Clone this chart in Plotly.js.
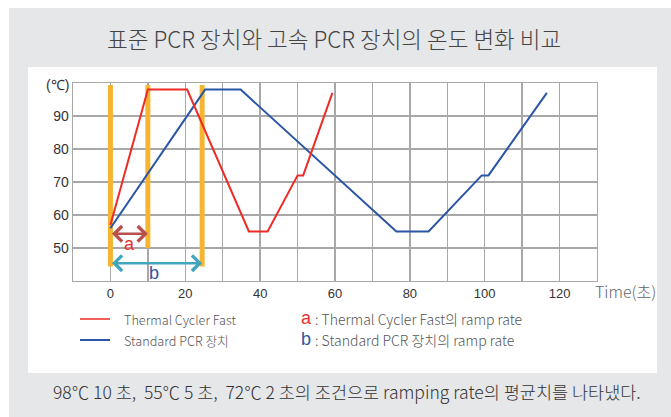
<!DOCTYPE html>
<html>
<head>
<meta charset="utf-8">
<script src="https://cdn.plot.ly/plotly-3.0.1.min.js"></script>
<style>
  html, body { margin: 0; padding: 0; background: #ffffff; }
  #wrap { position: relative; width: 671px; height: 417px; overflow: hidden; }
  #gray { position: absolute; left: 9px; top: 8px; width: 662px; height: 409px; background: #e6e7e9; }
  #white { position: absolute; left: 28px; top: 67px; width: 629px; height: 306px; background: #ffffff; }
  #chart { position: absolute; left: 0; top: 0; width: 671px; height: 417px; }
</style>
</head>
<body>
<div id="wrap">
  <div id="gray"></div>
  <div id="white"></div>
  <div id="chart"></div>
</div>
<script>
// ---- data ----
const fastTime = [0, 10, 20.5, 37, 42, 50, 51.5, 59.3];
const fastTemp = [57, 98, 98, 55, 55, 72, 72, 97];
const stdTime  = [0, 25.3, 34.8, 76.4, 85, 99.2, 101, 116.6];
const stdTemp  = [56, 98, 98, 55, 55, 72, 72, 97];
const markerTime   = [0, 10, 24.5];
const markerTop    = [99.4, 99.4, 99.4];
const markerBottom = [44.4, 50, 44.4];
const rampA = {start: 0, end: 10, temp: 54.3};
const rampB = {start: 0, end: 24.5, temp: 45.4};
const xTickVals = [0, 20, 40, 60, 80, 100, 120];
const xTickText = ['0', '20', '40', '60', '80', '100', '120'];
const yTickVals = [50, 60, 70, 80, 90];
const yTickText = ['50', '60', '70', '80', '90'];
const seriesNames = ['Thermal Cycler Fast', 'Standard PCR 장치'];
const rampNotes = [': Thermal Cycler Fast의 ramp rate', ': Standard PCR 장치의 ramp rate'];
const titleText = '표준 PCR 장치와 고속 PCR 장치의 온도 변화 비교';
const footText = '98℃ 10 초,  55℃ 5 초,  72℃ 2 초의 조건으로 ramping rate의 평균치를 나타냈다.';

const RED = '#ee2b26', BLUE = '#2b56a6', ORANGE = '#f6b431';
const KR = '"Noto Sans CJK KR", "Noto Sans", sans-serif';
const LAT = '"Liberation Sans", Arial, sans-serif';

const traces = [];
// orange marker bars
markerTime.forEach((t, i) => {
  traces.push({
    x: [t, t], y: [markerBottom[i], markerTop[i]],
    mode: 'lines', line: {color: ORANGE, width: 5},
    hoverinfo: 'skip', showlegend: false
  });
});
traces.push({x: stdTime, y: stdTemp, mode: 'lines', name: seriesNames[1],
  line: {color: BLUE, width: 2}, showlegend: false});
traces.push({x: fastTime, y: fastTemp, mode: 'lines', name: seriesNames[0],
  line: {color: RED, width: 2}, showlegend: false});

// pixel helpers for paper coords
const L = 73, R = 74, T = 83, B = 136, W = 671, H = 417;
const pw = W - L - R, ph = H - T - B;
const px = v => (v - L) / pw;
const py = v => (H - B - v) / ph;

const annotations = [
  // ramp arrows
  {x: rampA.end, y: rampA.temp, ax: rampA.start, ay: rampA.temp, xref: 'x', yref: 'y', axref: 'x', ayref: 'y',
   text: '', showarrow: true, arrowhead: 4, startarrowhead: 4, arrowside: 'end+start', arrowsize: 1.2, arrowwidth: 2.5, arrowcolor: '#b8514c'},
  {x: rampB.end, y: rampB.temp, ax: rampB.start, ay: rampB.temp, xref: 'x', yref: 'y', axref: 'x', ayref: 'y',
   text: '', showarrow: true, arrowhead: 4, startarrowhead: 4, arrowside: 'end+start', arrowsize: 1.2, arrowwidth: 2.5, arrowcolor: '#41a6bd'},
  {x: (rampA.start + rampA.end) / 2, y: rampA.temp - 3, xref: 'x', yref: 'y', text: 'a', showarrow: false,
   font: {family: LAT, size: 18, color: '#e8302c'}},
  {x: 11.7, y: rampB.temp - 3, xref: 'x', yref: 'y', text: 'b', showarrow: false,
   font: {family: LAT, size: 18, color: '#2f55a4'}},
  // unit label
  {x: 0, y: 100, xref: 'paper', yref: 'y', xanchor: 'right', yanchor: 'middle', xshift: -2, yshift: -2,
   text: '(℃)', showarrow: false, font: {family: LAT, size: 14, color: '#333333'}},
  // x axis title
  {x: px(593), y: py(291), xref: 'paper', yref: 'paper', xanchor: 'left', yanchor: 'middle',
   text: 'Time(초)', showarrow: false, font: {family: KR, size: 16, color: '#666666', weight: 300}},
  // legend text
  {x: px(122), y: py(319), xref: 'paper', yref: 'paper', xanchor: 'left', yanchor: 'middle',
   text: seriesNames[0], showarrow: false, font: {family: KR, size: 12.7, color: '#555555', weight: 300}},
  {x: px(122), y: py(340), xref: 'paper', yref: 'paper', xanchor: 'left', yanchor: 'middle',
   text: seriesNames[1], showarrow: false, font: {family: KR, size: 12.7, color: '#555555', weight: 300}},
  {x: px(299), y: py(318), xref: 'paper', yref: 'paper', xanchor: 'left', yanchor: 'middle',
   text: 'a', showarrow: false, font: {family: LAT, size: 18, color: '#e8302c'}},
  {x: px(299), y: py(339), xref: 'paper', yref: 'paper', xanchor: 'left', yanchor: 'middle',
   text: 'b', showarrow: false, font: {family: LAT, size: 18, color: '#2f55a4'}},
  {x: px(313), y: py(319), xref: 'paper', yref: 'paper', xanchor: 'left', yanchor: 'middle',
   text: rampNotes[0], showarrow: false, font: {family: KR, size: 14, color: '#555555', weight: 300}},
  {x: px(313), y: py(340), xref: 'paper', yref: 'paper', xanchor: 'left', yanchor: 'middle',
   text: rampNotes[1], showarrow: false, font: {family: KR, size: 14, color: '#555555', weight: 300}},
  // footnote
  {x: px(347), y: py(391), xref: 'paper', yref: 'paper', xanchor: 'center', yanchor: 'middle',
   text: footText, showarrow: false, font: {family: KR, size: 17.5, color: '#333333', weight: 300}}
];

const shapes = [
  {type: 'line', xref: 'paper', yref: 'paper', x0: px(80), x1: px(110), y0: py(319), y1: py(319),
   line: {color: RED, width: 1.5}},
  {type: 'line', xref: 'paper', yref: 'paper', x0: px(80), x1: px(110), y0: py(340), y1: py(340),
   line: {color: BLUE, width: 2}}
];

const layout = {
  width: W, height: H,
  margin: {l: L, r: R, t: T, b: B, pad: 0},
  paper_bgcolor: 'rgba(0,0,0,0)',
  plot_bgcolor: 'rgba(0,0,0,0)',
  showlegend: false,
  title: {text: titleText, xref: 'container', x: 0.498, xanchor: 'center', yref: 'container', y: 1 - 40 / H, yanchor: 'middle',
          font: {family: KR, size: 22.5, color: '#444444', weight: 300}},
  xaxis: {
    range: [-10, 130], tickvals: xTickVals, ticktext: xTickText, ticks: '', showgrid: true,
    gridcolor: '#a8a8a8', gridwidth: 1.4, zeroline: false,
    showline: true, mirror: true, linecolor: '#a8a8a8', linewidth: 1.4,
    minor: {tick0: 10, dtick: 20, showgrid: true, gridcolor: '#a8a8a8', gridwidth: 1.4},
    tickfont: {family: LAT, size: 13, color: '#333333'}, fixedrange: true
  },
  yaxis: {
    range: [40, 100], tickvals: yTickVals, ticktext: yTickText, ticks: '', showgrid: true,
    gridcolor: '#a8a8a8', gridwidth: 1.4, zeroline: false,
    showline: true, mirror: true, linecolor: '#a8a8a8', linewidth: 1.4,
    tickfont: {family: LAT, size: 14, color: '#333333'}, fixedrange: true
  },
  annotations: annotations,
  shapes: shapes
};

Plotly.newPlot('chart', traces, layout, {displayModeBar: false, staticPlot: true});
</script>
</body>
</html>
